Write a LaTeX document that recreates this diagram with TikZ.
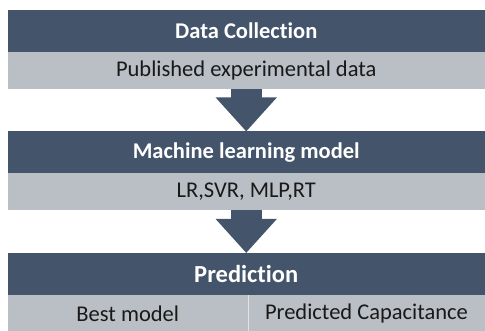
\documentclass[tikz,border=0pt]{standalone}
\usepackage{fontspec}
\setmainfont[Ligatures=NoCommon]{Carlito}
\usetikzlibrary{positioning, arrows.meta}
\definecolor{slate}{HTML}{44546A}
\definecolor{mist}{HTML}{BABEC5}
\tikzset{
node distance=0pt, % bars sit right on top of each other
bar/.style={inner sep=0pt, outer sep=0pt, minimum width=477.5pt, font=\fontsize{22.5}{27}\selectfont},
head/.style={bar, fill=slate, text=white, minimum height=42pt, font=\bfseries\fontsize{22.5}{27}\selectfont}, % dark title bar
body/.style={bar, fill=mist, text=black!90, minimum height=37pt}, % light content bar
flow/.style={slate, line width=31pt, -{Triangle[length=34pt, width=59pt]}}, % fat down arrow
}
\begin{document}
\begin{tikzpicture}
                \useasboundingbox (0,0) rectangle (485pt,-331pt);

                \node[head, anchor=north west] (data_head) at (7.5pt,-10pt) {Data Collection};
                \node[body, below=of data_head] (data_body) {Published experimental data};

                \node[head, below=42.5pt of data_body] (ml_head) {Machine learning model};
                \node[body, below=of ml_head] (ml_body) {LR,SVR, MLP,RT};

                \node[head, below=42.5pt of ml_body, font=\bfseries\fontsize{24.5}{29}\selectfont] (pred_head) {Prediction};
                \node[body, minimum width=240.5pt, below right=0pt and 0pt of pred_head.south west] (pred_best) {Best model};
                \node[body, minimum width=237pt, right=of pred_best] (pred_cap) {Predicted Capacitance};

                \draw[white!55!mist, line width=0.8pt] (pred_best.north east) -- (pred_best.south east);

                \draw[flow] (data_body) -- (ml_head);
                \draw[flow] (ml_body) -- (pred_head);
                \end{tikzpicture}
\end{document}
